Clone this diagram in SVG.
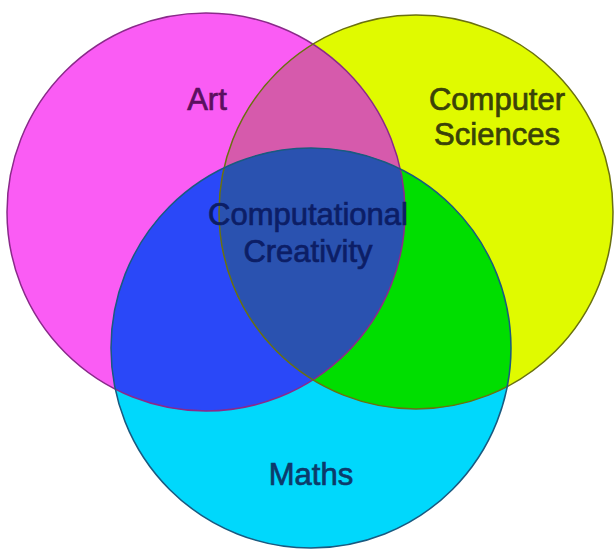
<svg xmlns="http://www.w3.org/2000/svg" width="615" height="555" viewBox="0 0 615 555">
<style>
.lbl{font-family:"Liberation Sans",Arial,sans-serif;font-size:31px;text-anchor:middle;stroke-width:0.7}
.ring{fill:none;stroke-width:1.5}
</style>
<defs>
<clipPath id="clipArt"><circle cx="206" cy="212" r="199"/></clipPath>
<clipPath id="clipCS"><circle cx="416" cy="212" r="197"/></clipPath>
</defs>
<rect width="615" height="555" fill="#ffffff"/>
<g id="art"><circle cx="206" cy="212" r="199" fill="#fa5cf4"/></g>
<g id="cs"><circle cx="416" cy="212" r="197" fill="#e0fa00"/></g>
<g id="maths"><circle cx="311" cy="348" r="200" fill="#00d8fc"/></g>
<g id="art-cs"><circle cx="416" cy="212" r="197" fill="#d65aac" clip-path="url(#clipArt)"/></g>
<g id="art-maths"><circle cx="311" cy="348" r="200" fill="#2a48f8" clip-path="url(#clipArt)"/></g>
<g id="cs-maths"><circle cx="311" cy="348" r="200" fill="#00de00" clip-path="url(#clipCS)"/></g>
<g id="center" clip-path="url(#clipCS)"><circle cx="311" cy="348" r="200" fill="#2a52b0" clip-path="url(#clipArt)"/></g>
<g id="outlines">
<circle class="ring" cx="206" cy="212" r="199" stroke="#8a2a8a"/>
<circle class="ring" cx="416" cy="212" r="197" stroke="#6a7010"/>
<circle class="ring" cx="311" cy="348" r="200" stroke="#1a5a80"/>
</g>
<g id="labels">
<text class="lbl" x="207" y="110" fill="#5a1060" stroke="#5a1060">Art</text>
<text class="lbl" x="497" y="110" fill="#3a4208" stroke="#3a4208">Computer</text>
<text class="lbl" x="497" y="145" fill="#3a4208" stroke="#3a4208">Sciences</text>
<text class="lbl" x="308" y="225" fill="#0c1e66" stroke="#0c1e66">Computational</text>
<text class="lbl" x="308" y="262" fill="#0c1e66" stroke="#0c1e66">Creativity</text>
<text class="lbl" x="311" y="485" fill="#0c3a6a" stroke="#0c3a6a">Maths</text>
</g>
</svg>
